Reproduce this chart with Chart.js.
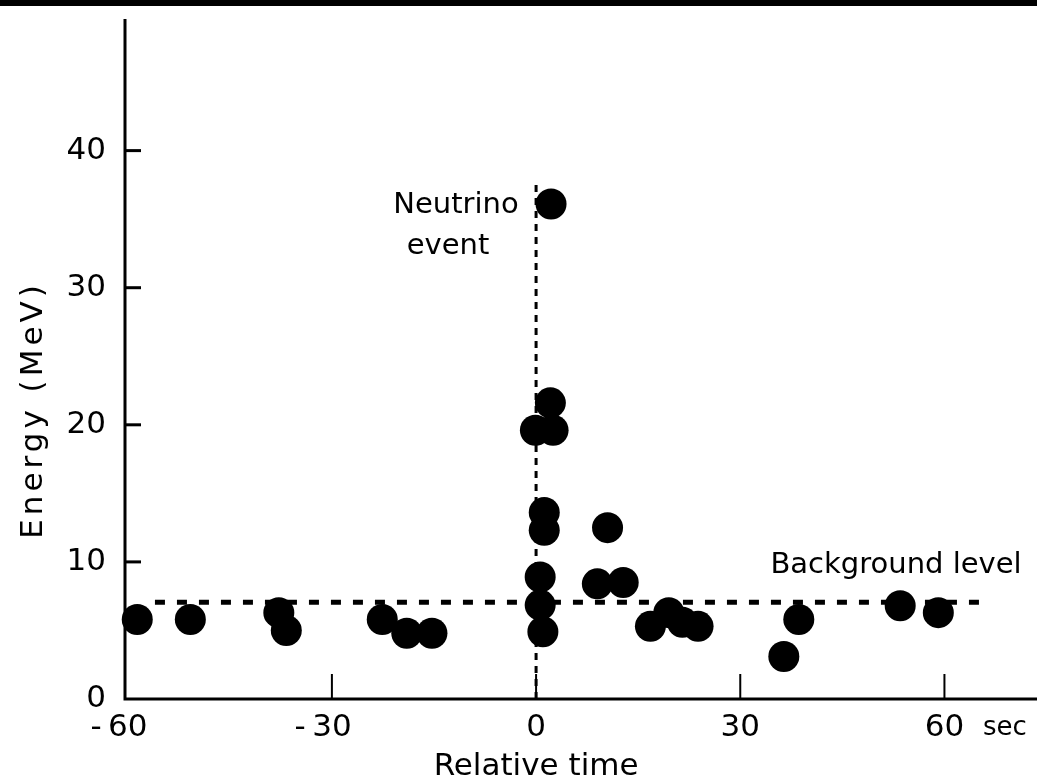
<!DOCTYPE html>
<html>
<head>
<meta charset="utf-8">
<script src="https://cdn.jsdelivr.net/npm/chart.js@4.4.1/dist/chart.umd.min.js"></script>
<style>
  html, body { margin: 0; padding: 0; background: #fff; }
  canvas { display: block; }
</style>
</head>
<body>
<canvas id="chart" width="1037" height="783"></canvas>
<script>
// event times (seconds, relative to the neutrino burst) and energies
const timeSec   = [-58.6, -50.8, -37.8, -36.7, -22.6, -19.0, -15.3, 1.2, 1.2, 0.6, 0.6, 1.0, 2.1, -0.1, 2.5, 2.2, 10.5, 9.0, 12.8, 16.8, 19.5, 21.5, 23.8, 36.4, 38.6, 53.5, 59.1];
const energyMeV = [5.8, 5.8, 6.3, 5.0, 5.8, 4.8, 4.8, 13.6, 12.3, 8.9, 6.85, 4.9, 21.6, 19.6, 19.6, 36.1, 12.5, 8.4, 8.5, 5.3, 6.3, 5.6, 5.3, 3.1, 5.8, 6.8, 6.3];

const xTicks = [-60, -30, 0, 30, 60];
const yTicks = [0, 10, 20, 30, 40];

// background level line and the neutrino-event marker
const backgroundLevel = 7.05;
const backgroundSpan = [-56, 65.5];
const eventTime = 0;
const eventTop = 37.8;

const font = '"DejaVu Sans", sans-serif';

const points = timeSec.map((t, i) => ({ x: t, y: energyMeV[i] }));

//draws the axes, inward tick marks, labels and notes
const axesPlugin = {
  id: 'oldAxes',
  beforeDraw(chart) {
    const ctx = chart.ctx;
    ctx.save();
    ctx.fillStyle = '#fff';
    ctx.fillRect(0, 0, chart.width, chart.height);
    ctx.fillStyle = '#000';
    ctx.fillRect(0, 0, chart.width, 6);
    ctx.restore();
  },
  afterDraw(chart) {
    const ctx = chart.ctx;
    const xs = chart.scales.x, ys = chart.scales.y;
    const a = chart.chartArea;
    ctx.save();
    ctx.strokeStyle = '#000';
    ctx.fillStyle = '#000';

    // axis lines
    ctx.lineWidth = 3;
    ctx.beginPath();
    ctx.moveTo(a.left, a.top);
    ctx.lineTo(a.left, a.bottom);
    ctx.lineTo(a.right, a.bottom);
    ctx.stroke();

    // y ticks pointing inward
    yTicks.forEach(v => {
      if (v === 0) return;
      const py = ys.getPixelForValue(v);
      ctx.beginPath();
      ctx.moveTo(a.left, py);
      ctx.lineTo(a.left + 16, py);
      ctx.stroke();
    });
    ctx.lineWidth = 2;
    xTicks.forEach(v => {
      if (v === -60) return;
      const px = xs.getPixelForValue(v);
      ctx.beginPath();
      ctx.moveTo(px, a.bottom);
      ctx.lineTo(px, a.bottom - 25);
      ctx.stroke();
    });

    // tick labels
    ctx.font = '31px ' + font;
    ctx.textBaseline = 'middle';
    ctx.textAlign = 'right';
    yTicks.forEach(v => {
      ctx.fillText(String(v), a.left - 19, ys.getPixelForValue(v));
    });
    ctx.textAlign = 'center';
    xTicks.forEach(v => {
      const px = xs.getPixelForValue(v);
      const num = String(Math.abs(v));
      ctx.fillText(num, px, a.bottom + 29);
      if (v < 0) {
        const w = ctx.measureText(num).width;
        ctx.fillText('-', px - w / 2 - 12, a.bottom + 29);
      }
    });
    ctx.font = '26px ' + font;
    ctx.textAlign = 'left';
    ctx.fillText('sec', 983, a.bottom + 29);

    // axis titles
    ctx.font = '31px ' + font;
    ctx.textAlign = 'center';
    ctx.fillText('Relative time', xs.getPixelForValue(0), 767);
    ctx.save();
    ctx.translate(34, 410);
    ctx.rotate(-Math.PI / 2);
    ctx.letterSpacing = '4px';
    ctx.fillText('Energy (MeV)', 0, 0);
    ctx.restore();

    // notes
    ctx.font = '29px ' + font;
    ctx.fillText('Neutrino', 456, 205);
    ctx.fillText('event', 448, 246);
    ctx.fillText('Background level', 896, 565);
    ctx.restore();
  }
};

new Chart(document.getElementById('chart').getContext('2d'), {
  type: 'scatter',
  data: {
    datasets: [{
      label: 'Events',
      data: points,
      pointRadius: 15.5,
      pointHoverRadius: 15.5,
      backgroundColor: '#000',
      borderWidth: 0,
      clip: false,
      order: 0
    }, {
      label: 'Background level',
      data: backgroundSpan.map(t => ({ x: t, y: backgroundLevel })),
      showLine: true,
      borderColor: '#000',
      borderWidth: 5,
      borderDash: [10, 12],
      pointRadius: 0,
      order: 1
    }, {
      label: 'Neutrino event',
      data: [{ x: eventTime, y: 0 }, { x: eventTime, y: eventTop }],
      showLine: true,
      borderColor: '#000',
      borderWidth: 3,
      borderDash: [7, 6],
      pointRadius: 0,
      order: 2
    }]
  },
  options: {
    responsive: false,
    animation: false,
    layout: { autoPadding: false, padding: { left: 125, right: 0, top: 19, bottom: 84 } },
    plugins: { legend: { display: false }, tooltip: { enabled: false } },
    scales: {
      x: { type: 'linear', min: -60.4, max: 73.6, display: false },
      y: { type: 'linear', min: 0, max: 49.6, display: false }
    }
  },
  plugins: [axesPlugin]
});
</script>
</body>
</html>
